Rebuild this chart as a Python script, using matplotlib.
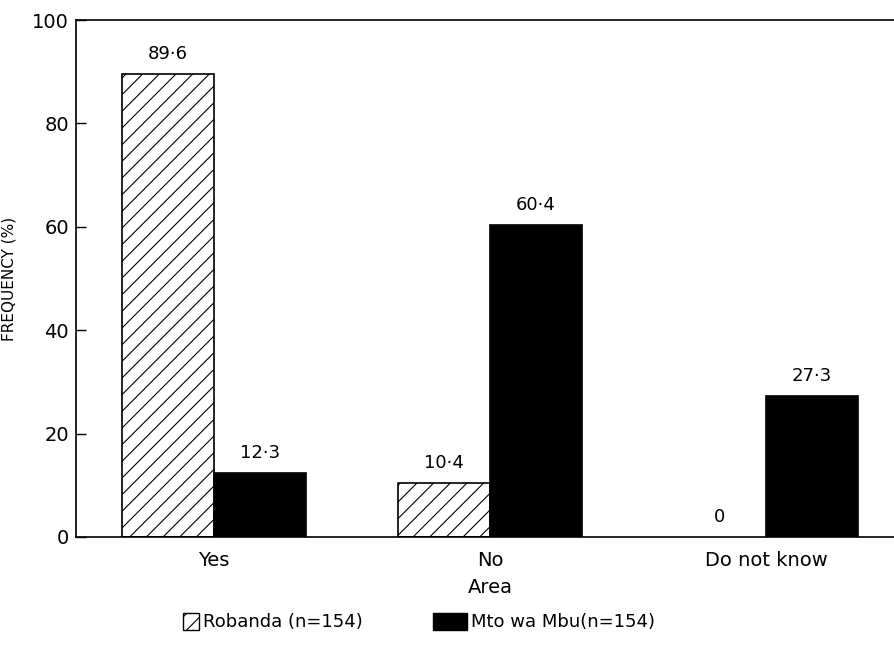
import numpy as np
import matplotlib
matplotlib.use("Agg")
import matplotlib.pyplot as plt
import matplotlib.patches as mpatches

# ── Data ──────────────────────────────────────────────────
categories   = ["Yes", "No", "Do not know"]
robanda      = [89.6, 10.4, 0.0]
mto_wa_mbu   = [12.3, 60.4, 27.3]
robanda_lbl  = ["89·6", "10·4", "0"]
mto_lbl      = ["12·3", "60·4", "27·3"]
series_names = ["Robanda (n=154)", "Mto wa Mbu(n=154)"]
y_ticks      = [0, 20, 40, 60, 80, 100]

plt.rcParams["font.family"] = "DejaVu Sans"
plt.rcParams["hatch.linewidth"] = 0.8

fig = plt.figure(figsize=(8.95, 6.48), dpi=100)
ax = fig.add_axes([76 / 895, 1 - 537 / 648, (904 - 76) / 895, (537 - 20) / 648])

x = np.arange(len(categories))
w = 1 / 3

ax.bar(x - w / 2, robanda, w, color="white", edgecolor="black",
       linewidth=[1.2 if v > 0 else 0 for v in robanda], hatch="//")
ax.bar(x + w / 2, mto_wa_mbu, w, color="black", edgecolor="black",
       linewidth=1.2)

for xi, v, s in zip(x - w / 2, robanda, robanda_lbl):
    ax.annotate(s, (xi, v), xytext=(0, 8), textcoords="offset points",
                ha="center", va="bottom", fontsize=13)
for xi, v, s in zip(x + w / 2, mto_wa_mbu, mto_lbl):
    ax.annotate(s, (xi, v), xytext=(0, 8), textcoords="offset points",
                ha="center", va="bottom", fontsize=13)

ax.set_xlim(-0.5, 2.5)
ax.set_ylim(0, 100)
ax.set_yticks(y_ticks)
ax.set_xticks(x)
ax.set_xticklabels(categories, fontsize=14)
ax.tick_params(axis="y", direction="in", length=7, width=1, pad=5, labelsize=14)
ax.tick_params(axis="x", length=0, pad=10)
ax.spines["right"].set_visible(False)
for s in ["left", "top", "bottom"]:
    ax.spines[s].set_linewidth(1.2)

ax.set_ylabel("FREQUENCY (%)", fontsize=11)
ax.yaxis.set_label_coords(-0.072, 0.5)
ax.set_xlabel("Area", fontsize=14, labelpad=6)

# two legend entries, handles of different widths as in the original
h1 = mpatches.Patch(facecolor="white", edgecolor="black", hatch="//", linewidth=1)
h2 = mpatches.Patch(facecolor="black", edgecolor="black", linewidth=1)
fig.legend(handles=[h1], labels=[series_names[0]], loc="center left",
           bbox_to_anchor=(183 / 895, 1 - 622 / 648), frameon=False,
           fontsize=13, handlelength=0.9, handleheight=1.1,
           handletextpad=0.2, borderpad=0, borderaxespad=0)
fig.legend(handles=[h2], labels=[series_names[1]], loc="center left",
           bbox_to_anchor=(433 / 895, 1 - 622 / 648), frameon=False,
           fontsize=13, handlelength=1.9, handleheight=1.1,
           handletextpad=0.2, borderpad=0, borderaxespad=0)

fig.savefig("out.png", dpi=100)
